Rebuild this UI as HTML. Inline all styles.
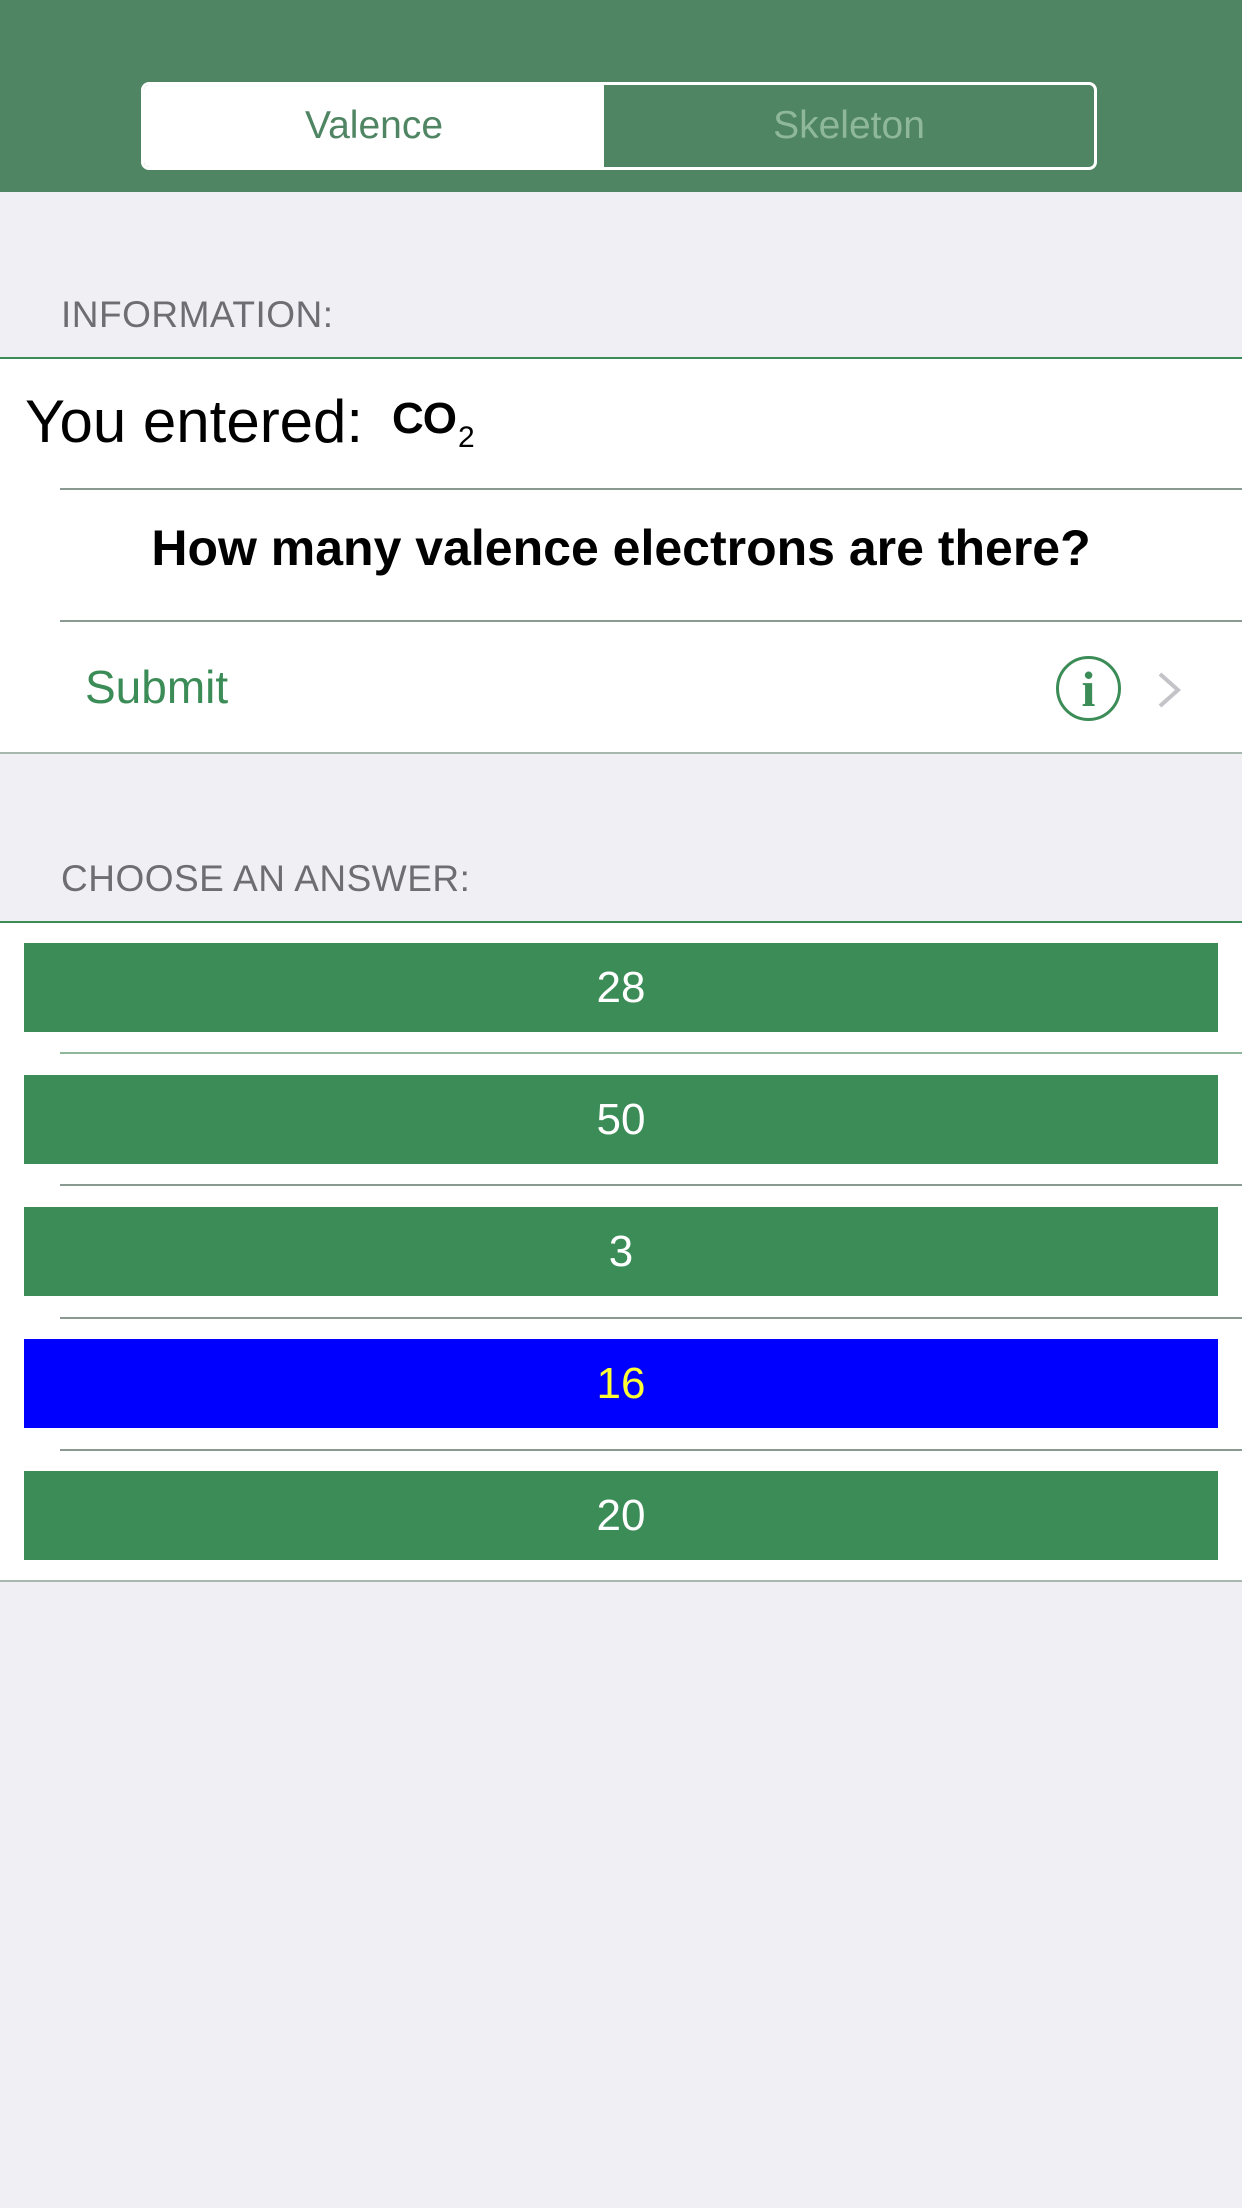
<!DOCTYPE html>
<html><head><meta charset="utf-8"><style>
*{margin:0;padding:0;box-sizing:border-box}
body{width:1242px;height:2208px;background:#efeff4;font-family:"Liberation Sans",sans-serif;position:relative;overflow:hidden}
.abs{position:absolute}
.hdr{left:0;top:0;width:1242px;height:192px;background:#4f8562}
.seg{left:141px;top:82px;width:956px;height:88px;border:3px solid #fff;border-radius:8px;overflow:hidden;display:flex}
.seg div{display:flex;align-items:center;justify-content:center;font-size:39px}
.label{left:61px;font-size:37px;color:#6d6d72;letter-spacing:0.5px}
.white{left:0;width:1242px;background:#fff}
.line{height:2px}
.btn{left:24px;width:1194px;height:89px;background:#3b8c57;color:#fff;font-size:44px;display:flex;align-items:center;justify-content:center}
</style></head><body>
<div class="abs hdr"></div>
<div class="abs seg">
<div style="width:460px;background:#fff;color:#4f8562">Valence</div>
<div style="flex:1;color:#8fb89b">Skeleton</div>
</div>
<div class="abs label" style="top:294px">INFORMATION:</div>
<div class="abs white" style="top:358px;height:395px"></div>
<div class="abs line" style="top:357px;left:0;width:1242px;background:#3b8c57"></div>
<div class="abs" style="left:25px;top:387px;font-size:60px">You entered:</div>
<div class="abs" style="left:392px;top:394px;font-size:44px;font-weight:bold;letter-spacing:-1px">CO<span style="font-size:30px;font-weight:normal;position:relative;top:14px;left:2px">2</span></div>
<div class="abs line" style="top:488px;left:60px;width:1182px;background:#8a9a90"></div>
<div class="abs" style="left:0;width:1242px;top:519px;text-align:center;font-size:50px;font-weight:bold">How many valence electrons are there?</div>
<div class="abs line" style="top:620px;left:60px;width:1182px;background:#8a9a90"></div>
<div class="abs" style="left:85px;top:660px;font-size:46px;color:#3b8c57">Submit</div>
<div class="abs" style="left:1056px;top:656px;width:65px;height:65px;border:3px solid #3b8c57;border-radius:50%;color:#3b8c57;font-family:'Liberation Serif',serif;font-size:50px;font-weight:bold;text-align:center;line-height:60px">i</div>
<svg class="abs" style="left:1156px;top:670px" width="28" height="40"><polyline points="4,4 22,20 4,36" fill="none" stroke="#c4c4c8" stroke-width="4"/></svg>
<div class="abs line" style="top:752px;left:0;width:1242px;background:#a9b8ae"></div>
<div class="abs label" style="top:858px">CHOOSE AN ANSWER:</div>
<div class="abs white" style="top:922px;height:659px"></div>
<div class="abs line" style="top:921px;left:0;width:1242px;background:#3b8c57"></div>
<div class="abs line" style="top:1052px;left:60px;width:1182px;background:#8fb89b"></div>
<div class="abs line" style="top:1184px;left:60px;width:1182px;background:#8a9a90"></div>
<div class="abs line" style="top:1317px;left:60px;width:1182px;background:#8a9a90"></div>
<div class="abs line" style="top:1449px;left:60px;width:1182px;background:#8a9a90"></div>
<div class="abs line" style="top:1580px;left:0;width:1242px;background:#a9b8ae"></div>
<div class="abs btn" style="top:943px">28</div>
<div class="abs btn" style="top:1075px">50</div>
<div class="abs btn" style="top:1207px">3</div>
<div class="abs btn" style="top:1339px;background:#0000ff;color:#ffff33">16</div>
<div class="abs btn" style="top:1471px">20</div>
</body></html>
